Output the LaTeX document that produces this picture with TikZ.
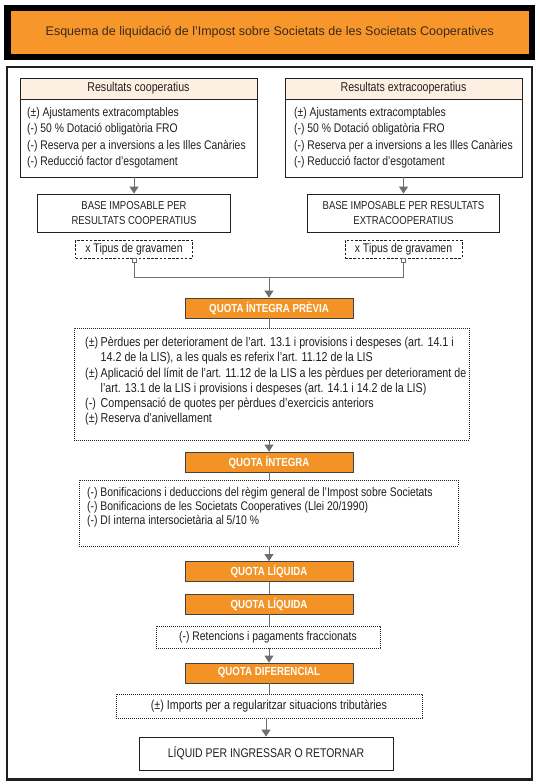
\documentclass[tikz,border=0pt]{standalone}
\usepackage{fontspec}
\setmainfont[FakeStretch=0.83]{Liberation Sans}
\newfontfamily\titlefont{Liberation Sans}
\usetikzlibrary{arrows.meta}
\definecolor{orng}{HTML}{F7962B}
\definecolor{qorng}{HTML}{F39325}
\definecolor{peach}{HTML}{FDF0E2}
\definecolor{ink}{HTML}{231F20}
\definecolor{conn}{HTML}{6D6E70}
\definecolor{titleink}{HTML}{3A2A1C}
\tikzset{
  box/.style={draw=ink, line width=0.8pt, rectangle, inner sep=0pt, text=ink},
  hdr/.style={box, fill=peach, font=\fontsize{12.8}{14}\selectfont},
  bigbox/.style={box, align=center, font=\fontsize{11.45}{15}\selectfont},
  qbox/.style={draw=ink!85, line width=0.7pt, fill=qorng, minimum width=168pt, minimum height=20pt,
    inner sep=0pt, text=white, font=\bfseries\fontsize{11.7}{12}\selectfont},
  dotbox/.style={draw=ink, line width=0.8pt, dash pattern=on 0.8pt off 1.2pt, inner sep=0pt},
  dashbox/.style={draw=ink, line width=0.8pt, dash pattern=on 2.6pt off 1.6pt, inner sep=0pt,
    font=\fontsize{12.6}{14}\selectfont, text=ink},
  conn/.style={draw=conn, line width=1pt},
  arr/.style={conn, -{Triangle[width=9pt,length=7pt]}},
  txt/.style={inner sep=0pt, anchor=base west, font=\fontsize{12.5}{14}\selectfont, text=ink},
  ttxt/.style={txt, font=\fontsize{12.9}{14}\selectfont},
  sq/.style={draw=conn, fill=white, line width=0.7pt, minimum size=4pt, inner sep=0pt}
}
\begin{document}
\begin{tikzpicture}[x=1pt,y=-1pt]
\useasboundingbox (0,0) rectangle (539,784);
\fill[white] (0,0) rectangle (539,784);
% title
\node[draw=black, line width=6.5pt, fill=orng, minimum width=524.5pt, minimum height=49pt, inner sep=0pt,
  font=\titlefont\fontsize{12.5}{14}\selectfont, text=titleink] (title) at (269.75,32.5)
  {Esquema de liquidació de l’Impost sobre Societats de les Societats Cooperatives};
% frame
\node[draw=black!88, line width=2.5pt, minimum width=525pt, minimum height=712.5pt, inner sep=0pt] (frame) at (269.5,423.25) {};
% top boxes
\node[box, minimum width=237pt, minimum height=99pt] (rc) at (138.5,127.5) {};
\node[hdr, minimum width=237pt, minimum height=21pt, anchor=north] (rch) at (rc.north) {Resultats cooperatius};
\node[box, minimum width=237pt, minimum height=99pt] (re) at (403.5,127.5) {};
\node[hdr, minimum width=237pt, minimum height=21pt, anchor=north] (reh) at (re.north) {Resultats extracooperatius};
\node[txt] (l1) at (27,116) {(±) Ajustaments extracomptables};
\node[txt] (l2) at (27,132.5) {(-) 50 \% Dotació obligatòria FRO};
\node[txt] (l3) at (27,149) {(-) Reserva per a inversions a les Illes Canàries};
\node[txt] (l4) at (27,165.5) {(-) Reducció factor d’esgotament};
\node[txt] (r1) at (294,116) {(±) Ajustaments extracomptables};
\node[txt] (r2) at (294,132.5) {(-) 50 \% Dotació obligatòria FRO};
\node[txt] (r3) at (294,149) {(-) Reserva per a inversions a les Illes Canàries};
\node[txt] (r4) at (294,165.5) {(-) Reducció factor d’esgotament};
% base boxes
\node[bigbox, minimum width=193pt, minimum height=38pt] (bl) at (134,213) {BASE IMPOSABLE PER\\RESULTATS COOPERATIUS};
\node[bigbox, minimum width=192pt, minimum height=38pt] (br) at (403.5,213) {BASE IMPOSABLE PER RESULTATS\\EXTRACOOPERATIUS};
\draw[arr] (rc.south -| bl.north) -- (bl.north);
\draw[arr] (re.south -| br.north) -- (br.north);
% tipus de gravamen
\node[dashbox, minimum width=117pt, minimum height=18pt] (gl) at (134,249) {x Tipus de gravamen};
\node[dashbox, minimum width=117pt, minimum height=18pt] (gr) at (403.5,249) {x Tipus de gravamen};
\node[sq, anchor=north] (sql) at (gl.south) {};
\node[sq, anchor=north] (sqr) at (gr.south) {};
\coordinate (jl) at (134,277);
\coordinate (jr) at (403.5,277);
\coordinate (jm) at (269,277);
\draw[conn] (sql.south) -- (jl) -- (jr) -- (sqr.south);
% quota integra previa
\node[qbox] (qp) at (269,308) {QUOTA ÍNTEGRA PRÈVIA};
\draw[arr] (jm) -- (qp.north);
% dotted box 1
\node[dotbox, minimum width=395pt, minimum height=112pt] (d1) at (271.5,384) {};
\draw[conn] (qp.south) -- (qp.south |- d1.north);
\node[ttxt] (m1) at (85,346.5) {(±)};
\node[ttxt] (a1) at (100.5,346.5) {Pèrdues per deteriorament de l’art. 13.1 i provisions i despeses (art. 14.1 i};
\node[ttxt] (a2) at (100.5,361.5) {14.2 de la LIS), a les quals es referix l’art. 11.12 de la LIS};
\node[ttxt] (m2) at (85,377) {(±)};
\node[ttxt] (a3) at (100.5,377) {Aplicació del límit de l’art. 11.12 de la LIS a les pèrdues per deteriorament de};
\node[ttxt] (a4) at (100.5,392) {l’art. 13.1 de la LIS i provisions i despeses (art. 14.1 i 14.2 de la LIS)};
\node[ttxt] (m3) at (85,407.5) {(-)};
\node[ttxt] (a5) at (100.5,407.5) {Compensació de quotes per pèrdues d’exercicis anteriors};
\node[ttxt] (m4) at (85,422.5) {(±)};
\node[ttxt] (a6) at (100.5,422.5) {Reserva d’anivellament};
% quota integra
\node[qbox] (qi) at (269,462) {QUOTA ÍNTEGRA};
\draw[arr] (d1.south -| qi.north) -- (qi.north);
% dotted box 2
\node[dotbox, minimum width=379pt, minimum height=66pt] (d2) at (268.5,513) {};
\draw[conn] (qi.south) -- (qi.south |- d2.north);
\node[txt] (b1) at (87,496.5) {(-) Bonificacions i deduccions del règim general de l’Impost sobre Societats};
\node[txt] (b2) at (87,510.5) {(-) Bonificacions de les Societats Cooperatives (Llei 20/1990)};
\node[txt] (b3) at (87,524.5) {(-) DI interna intersocietària al 5/10 \%};
% quota liquida
\node[qbox] (ql1) at (269,571.5) {QUOTA LÍQUIDA};
\draw[arr] (d2.south -| ql1.north) -- (ql1.north);
\node[qbox] (ql2) at (269,604) {QUOTA LÍQUIDA};
\draw[conn] (ql1.south) -- (ql2.north);
% retencions
\node[dotbox, minimum width=224pt, minimum height=22pt, font=\fontsize{12.5}{14}\selectfont, text=ink] (d3) at (268,637) {(-) Retencions i pagaments fraccionats};
\draw[conn] (ql2.south) -- (ql2.south |- d3.north);
% quota diferencial
\node[qbox] (qd) at (269,673) {QUOTA DIFERENCIAL};
\draw[arr] (d3.south -| qd.north) -- (qd.north);
% imports
\node[dotbox, minimum width=306pt, minimum height=24pt, font=\fontsize{12.9}{14}\selectfont, text=ink] (d4) at (269,706) {(±) Imports per a regularitzar situacions tributàries};
\draw[conn] (qd.south) -- (qd.south |- d4.north);
% final
\node[box, minimum width=254pt, minimum height=33pt, font=\fontsize{12.6}{14}\selectfont] (fin) at (266,753.5) {LÍQUID PER INGRESSAR O RETORNAR};
\draw[arr] (d4.south -| fin.north) -- (fin.north);
\end{tikzpicture}
\end{document}
